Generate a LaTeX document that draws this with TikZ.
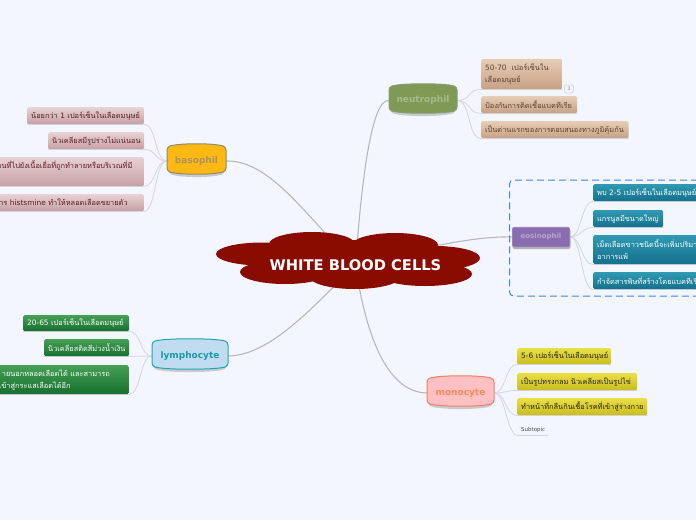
\documentclass[tikz,border=0pt]{standalone}
\usepackage{fontspec}
\setmainfont[Script=Thai]{Loma}
\newfontfamily\lat{DejaVu Sans}
\newfontfamily\latsm{DejaVu Sans}
\usetikzlibrary{calc,backgrounds}
\pgfdeclarelayer{paper}
\pgfdeclarelayer{lines}
\pgfsetlayers{paper,lines,main}
\definecolor{pagebg}{HTML}{F3F6FF}
\definecolor{rootred}{HTML}{8A0B00}
\definecolor{Na}{HTML}{E6CDB5}\definecolor{Nb}{HTML}{C7A185}\definecolor{Nc}{HTML}{5A4433}
\definecolor{Ea}{HTML}{2F9AB3}\definecolor{Eb}{HTML}{15708C}
\definecolor{Ba}{HTML}{E8D2D3}\definecolor{Bb}{HTML}{C6A0A5}\definecolor{Bc}{HTML}{5E1A25}
\definecolor{La}{HTML}{45A056}\definecolor{Lb}{HTML}{176E2E}
\definecolor{Ma}{HTML}{EADF45}\definecolor{Mb}{HTML}{C9BC20}
\definecolor{twigc}{HTML}{D6D8E2}\definecolor{trunkc}{HTML}{B8B8BC}
\definecolor{frame}{HTML}{3C87E6}
\definecolor{HN}{HTML}{7F9A55}\definecolor{HNb}{HTML}{8A9A70}\definecolor{HNt}{HTML}{A9BA8C}
\definecolor{HB}{HTML}{FDB813}\definecolor{HBb}{HTML}{8C8C6A}\definecolor{HBt}{HTML}{A89264}
\definecolor{HL}{HTML}{BFDCF0}\definecolor{HLb}{HTML}{22A5B5}\definecolor{HLt}{HTML}{1A9AAA}
\definecolor{HM}{HTML}{FFC0C4}\definecolor{HMb}{HTML}{F08060}\definecolor{HMt}{HTML}{F58A5A}
\definecolor{HE}{HTML}{8A6CB0}\definecolor{HEb}{HTML}{9A80BC}\definecolor{HEt}{HTML}{B5A5CC}
\tikzset{
  x=1pt,y=-1pt,
  leafbox/.style={anchor=north west,inner xsep=4pt,inner ysep=0pt,rounded corners=1.5pt,align=left,
    font=\fontsize{7.4}{12}\selectfont},
  neutleaf/.style={leafbox,top color=Na,bottom color=Nb,text=Nc},
  eosleaf/.style={leafbox,top color=Ea,bottom color=Eb,text=white},
  basleaf/.style={leafbox,top color=Ba,bottom color=Bb,text=Bc},
  lymleaf/.style={leafbox,top color=La,bottom color=Lb,text=white},
  monleaf/.style={leafbox,top color=Ma,bottom color=Mb,text=black!85},
  mainlabel/.style={font=\lat\bfseries\fontsize{#1}{#1}\selectfont,inner sep=0pt},
  twig/.style={draw=twigc,line width=0.9pt},
  trunk/.style={draw=trunkc,line width=1.1pt},
}
\newcommand\leaf[7]{%
  \pgfmathsetmacro\leafw{#4-#2-8}\pgfmathsetmacro\leafh{#5-#3}%
  \node[#6,text width=\leafw pt,minimum height=\leafh pt] (#1) at (#2,#3) {#7};}
\newcommand\bulge[9]{%
  \fill[black!35,opacity=.55,rounded corners=3pt] (#2+1,#3+4) -- (#4-1,#3+4) -- (#4-1,#5-3)
     .. controls (#4-12,#5+2) and (#2+12,#5+2) .. (#2+1,#5-3) -- cycle;
  \filldraw[fill=#6,draw=#7,line width=1pt,rounded corners=3pt]
    (#2,#3+3) .. controls (#2+12,#3-1) and (#4-12,#3-1) .. (#4,#3+3)
    -- (#4,#5-5) .. controls (#4-12,#5-1) and (#2+12,#5-1) .. (#2,#5-5) -- cycle;
  \pgfmathsetmacro\leafw{#4-#2}\pgfmathsetmacro\leafh{#5-#3}%
  \node[mainlabel=9,text=#8,minimum width=\leafw pt,minimum height=\leafh pt] (#1) at ({(#2+#4)/2},{(#3+#5)/2+1}) {#9};
}
\newcommand\branch[5]{\draw[twig] (#1) .. controls ($(#1)+(#5,0)$) and ($(#2.south #3)+({-1*(#5)},0)$) .. (#2.south #3) -- (#2.south #4);}
\newcommand\numb[1]{\mbox{\latsm #1}}
\begin{document}
\begin{tikzpicture}
\useasboundingbox (0,0) rectangle (696,520);
\begin{pgfonlayer}{paper}
\fill[pagebg] (0,0) rectangle (696,520);
\end{pgfonlayer}
\begin{scope}
\clip (0,0) rectangle (696,520);
\draw[frame,dash pattern=on 7pt off 4pt,line width=1pt,rounded corners=4pt]
  (720,180) -- (509.5,180) -- (509.5,296) -- (720,296);
\fill[rootred] (262,254) ellipse [x radius=46,y radius=11.5];
\fill[rootred] (312,244) ellipse [x radius=43,y radius=12];
\fill[rootred] (395,245) ellipse [x radius=43,y radius=12];
\fill[rootred] (435,258) ellipse [x radius=45,y radius=12];
\fill[rootred] (425,274) ellipse [x radius=47,y radius=12];
\fill[rootred] (355,277) ellipse [x radius=45,y radius=12];
\fill[rootred] (285,272) ellipse [x radius=45,y radius=12];
\fill[rootred] (280,240) rectangle (430,275);
\node[font=\lat\bfseries\fontsize{14.7}{16}\selectfont,text=white,inner sep=0pt] (root) at (355.5,265) {WHITE BLOOD CELLS};
\bulge{neut}{389}{84}{457}{115}{HN}{HNb}{HNt}{neutrophil}
\bulge{baso}{167}{144}{226}{176}{HB}{HBb}{HBt}{basophil}
\bulge{lymp}{152}{339}{228}{371}{HL}{HLb}{HLt}{lymphocyte}
\bulge{mono}{427}{376}{494}{408}{HM}{HMb}{HMt}{monocyte}
\fill[black!30,rounded corners=2pt] (512.5,229) rectangle (570.5,249);
\node[fill=HE,draw=HEb,line width=.8pt,rounded corners=2pt,mainlabel=7,text=HEt,minimum width=57pt,minimum height=19.5pt] (eos) at (541,237) {eosinophil};
\leaf{n1}{481}{59}{562}{89}{neutleaf}{\numb{50-70}\ \ เปอร์เซ็นใน\\เลือดมนุษย์}
\leaf{n2}{481}{96}{577}{113}{neutleaf}{ป้องกันการติดเชื้อแบคทีเรีย}
\leaf{n3}{481}{121}{628.5}{138}{neutleaf}{เป็นด่านแรกของการตอบสนองทางภูมิคุ้มกัน}
\node[draw=twigc,fill=pagebg,line width=.8pt,rounded corners=2pt,inner sep=0pt,minimum width=9pt,minimum height=8pt,font=\fontsize{5}{5}\selectfont,text=black!50] (badge) at (569,89) {3};
\leaf{e1}{593}{184}{720}{201}{eosleaf}{พบ~\numb{2-5}~เปอร์เซ็นในเลือดมนุษย์}
\leaf{e2}{593}{210}{663}{227}{eosleaf}{แกรนูลมีขนาดใหญ่}
\leaf{e3}{593}{235}{720}{264}{eosleaf}{เม็ดเลือดขาวชนิดนี้จะเพิ่มปริมาณ\\อาการแพ้}
\leaf{e4}{593}{272}{720}{289}{eosleaf}{กำจัดสารพิษที่สร้างโดยแบคทีเรีย}
\leaf{b1}{27}{107}{144}{124}{basleaf}{น้อยกว่า~\numb{1}~เปอร์เซ็นในเลือดมนุษย์}
\leaf{b2}{48}{132}{144}{149}{basleaf}{นิวเคลียสมีรูปร่างไม่แน่นอน}
\node[basleaf,anchor=north east,minimum height=29pt,minimum width=170pt,align=right,text depth=14pt] (b3) at (144,157) {เคลื่อนที่ไปยังเนื้อเยื่อที่ถูกทำลายหรือบริเวณที่มี};
\node[basleaf,anchor=north east,minimum height=17pt,minimum width=170pt,align=right] (b4) at (144,194) {มีสาร~\numb{histsmine}~ทำให้หลอดเลือดขยายตัว};
\leaf{l1}{23}{315}{129}{331}{lymleaf}{\numb{20-65}~เปอร์เซ็นในเลือดมนุษย์}
\leaf{l2}{44}{339}{129}{356}{lymleaf}{นิวเคลียสติดสีม่วงน้ำเงิน}
\node[lymleaf,anchor=north east,minimum height=29pt,minimum width=170pt,align=left] (l3) at (129,365) {\hspace*{24pt}ายนอกหลอดเลือดได้~และสามารถ\\\hspace*{21pt}เข้าสู่กระแสเลือดได้อีก};
\leaf{m1}{517}{348}{611}{364}{monleaf}{\numb{5-6}~เปอร์เซ็นในเลือดมนุษย์}
\leaf{m2}{517}{373}{637}{390}{monleaf}{เป็นรูปทรงกลม~นิวเคลียสเป็นรูปไข่}
\leaf{m3}{517}{398}{647}{415}{monleaf}{ทำหน้าที่กลืนกินเชื้อโรคที่เข้าสู่ร่างกาย}
\node[anchor=north west,inner sep=0pt,minimum width=30pt,minimum height=11pt,font=\lat\fontsize{5.5}{6}\selectfont,text=black!70] (m4) at (518,424) {Subtopic};
\end{scope}
\begin{pgfonlayer}{lines}
\draw[trunk] (baso.east) .. controls (270,160) and (305,215) .. (root.center);
\draw[trunk] (neut.west) .. controls (372,99) and (362,175) .. (root.center);
\draw[trunk] (eos.west) .. controls (480,236) and (430,245) .. (root.center);
\draw[trunk] (lymp.east) .. controls (270,355) and (310,310) .. (root.center);
\draw[trunk] (mono.west) .. controls (385,392) and (365,330) .. (root.center);
\branch{neut.east}{n1}{west}{east}{14}
\branch{neut.east}{n2}{west}{east}{14}
\branch{neut.east}{n3}{west}{east}{14}
\branch{eos.east}{e1}{west}{east}{12}
\branch{eos.east}{e2}{west}{east}{12}
\branch{eos.east}{e3}{west}{east}{12}
\branch{eos.east}{e4}{west}{east}{12}
\branch{baso.west}{b1}{east}{west}{-12}
\branch{baso.west}{b2}{east}{west}{-12}
\branch{baso.west}{b3}{east}{west}{-12}
\branch{baso.west}{b4}{east}{west}{-12}
\branch{lymp.west}{l1}{east}{west}{-12}
\branch{lymp.west}{l2}{east}{west}{-12}
\branch{lymp.west}{l3}{east}{west}{-12}
\branch{mono.east}{m1}{west}{east}{12}
\branch{mono.east}{m2}{west}{east}{12}
\branch{mono.east}{m3}{west}{east}{12}
\branch{mono.east}{m4}{west}{east}{12}
\end{pgfonlayer}
\end{tikzpicture}
\end{document}
